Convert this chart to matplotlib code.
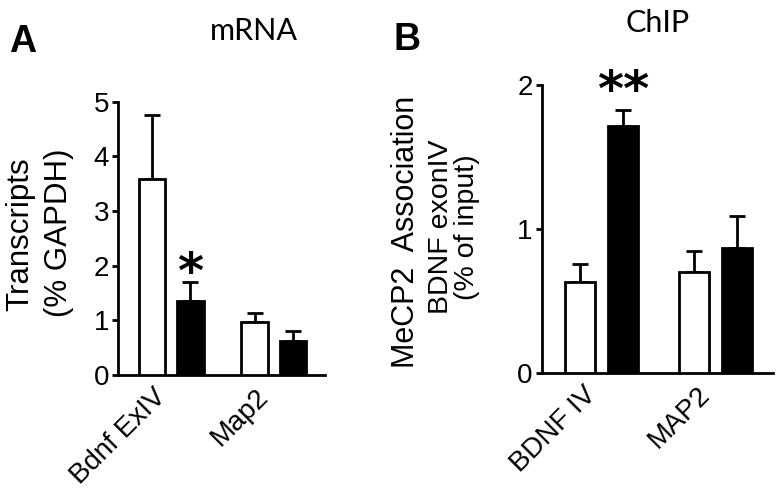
import matplotlib
matplotlib.use('Agg')
import matplotlib.pyplot as plt
import matplotlib.transforms as mtransforms
import numpy as np

plt.rcParams['font.family'] = 'Liberation Sans'

# Panel A: mRNA
groups_a = ['Bdnf ExIV', 'Map2']
white_a = [3.58, 0.97]
white_a_err = [1.17, 0.16]
black_a = [1.36, 0.62]
black_a_err = [0.35, 0.18]

# Panel B: ChIP
groups_b = ['BDNF IV', 'MAP2']
white_b = [0.63, 0.70]
white_b_err = [0.13, 0.145]
black_b = [1.716, 0.87]
black_b_err = [0.114, 0.22]

fig = plt.figure(figsize=(7.8, 4.98), dpi=100)
ax_a = fig.add_axes([0.1513, 0.247, 0.2654, 0.5487])
ax_b = fig.add_axes([0.6945, 0.2504, 0.2965, 0.5789])

width = 0.26
off = 0.187


def draw_panel(ax, groups, wv, we, bv, be, ymax, yticks):
    x = np.arange(len(groups))
    ax.bar(x - off, wv, width, color='white', edgecolor='black', linewidth=2, zorder=3)
    ax.bar(x + off, bv, width, color='black', edgecolor='black', linewidth=2, zorder=3)
    ax.errorbar(x - off, wv, yerr=[np.zeros(len(wv)), we], fmt='none', ecolor='black',
                elinewidth=2, capsize=5.5, capthick=2, zorder=2)
    ax.errorbar(x + off, bv, yerr=[np.zeros(len(bv)), be], fmt='none', ecolor='black',
                elinewidth=2, capsize=5.5, capthick=2, zorder=2)
    ax.set_xlim(-0.52, 1.50)
    ax.set_ylim(0, ymax)
    ax.set_yticks(yticks)
    ax.set_xticks(x)
    ax.set_xticklabels(groups, rotation=45, ha='right', fontsize=20)
    shift = mtransforms.ScaledTranslation(4 / 100, 0, fig.dpi_scale_trans)
    for lab in ax.get_xticklabels():
        lab.set_transform(lab.get_transform() + shift)
    for s in ['top', 'right']:
        ax.spines[s].set_visible(False)
    for s in ['left', 'bottom']:
        ax.spines[s].set_linewidth(2)
    ax.tick_params(axis='y', direction='out', length=4.5, width=2, pad=2, labelsize=20)
    ax.tick_params(axis='x', length=0, pad=6)
    return x


xa = draw_panel(ax_a, groups_a, white_a, white_a_err, black_a, black_a_err, 5, [0, 1, 2, 3, 4, 5])
xb = draw_panel(ax_b, groups_b, white_b, white_b_err, black_b, black_b_err, 2, [0, 1, 2])

# significance stars
ax_a.annotate('*', xy=(xa[0] + off, black_a[0] + black_a_err[0]), xytext=(0, -5),
              textcoords='offset points', ha='center', va='baseline',
              fontsize=36, fontweight='bold', family='DejaVu Sans')
ax_b.annotate('**', xy=(xb[0] + off, black_b[0] + black_b_err[0]), xytext=(0, 2.5),
              textcoords='offset points', ha='center', va='baseline',
              fontsize=36, fontweight='bold', family='DejaVu Sans', annotation_clip=False)

# y labels
fig.text(20 / 780, 1 - 234 / 498, 'Transcripts', rotation=90, ha='center', va='center', fontsize=22.5)
fig.text(59 / 780, 1 - 233 / 498, '(% GAPDH)', rotation=90, ha='center', va='center', fontsize=22.5)
fig.text(406 / 780, 1 - 232 / 498, 'MeCP2  Association', rotation=90, ha='center', va='center', fontsize=22)
fig.text(454 / 780, 1 - 227 / 498, 'BDNF exonIV\n(% of input)', rotation=90, ha='center', va='center',
         fontsize=20.5, linespacing=0.97)

# titles and panel letters
fig.text(254 / 780, 1 - 40 / 498, 'mRNA', ha='center', va='baseline', fontsize=22, family='Lato')
fig.text(658 / 780, 1 - 32 / 498, 'ChIP', ha='center', va='baseline', fontsize=22, family='Lato')
fig.text(9 / 780, 1 - 52 / 498, 'A', ha='left', va='baseline', fontsize=27, fontweight='bold')
fig.text(393 / 780, 1 - 50 / 498, 'B', ha='left', va='baseline', fontsize=27, fontweight='bold')

fig.savefig('out.png', dpi=100)
